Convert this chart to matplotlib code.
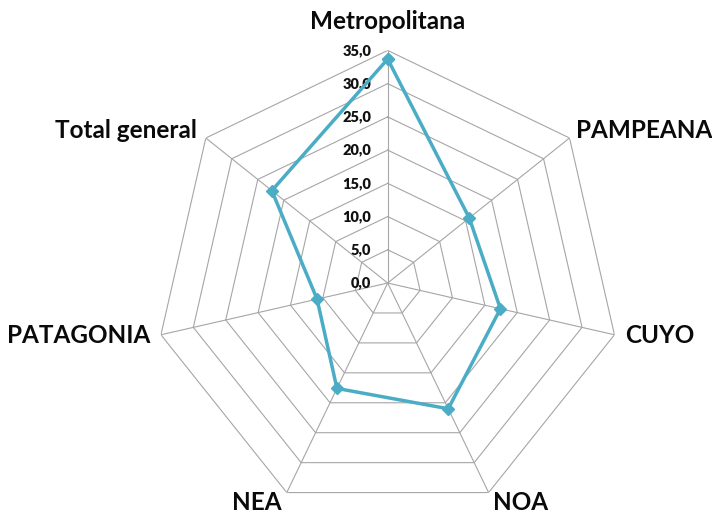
import matplotlib.pyplot as plt
import numpy as np

plt.rcParams['font.family'] = ['Lato', 'DejaVu Sans']

# 区域数据
regiones = ['Metropolitana', 'PAMPEANA', 'CUYO', 'NOA', 'NEA', 'PATAGONIA', 'Total general']
valores = [33.7, 15.7, 17.4, 21.0, 17.6, 10.9, 22.3]
niveles = [0, 5, 10, 15, 20, 25, 30, 35]
etiquetas_nivel = ['0,0', '5,0', '10,0', '15,0', '20,0', '25,0', '30,0', '35,0']

# 标签相对顶点的偏移 (points) 和对齐方式
offsets = [(0, 15.4, 'center'), (5, 0, 'left'), (7.6, -6.2, 'left'), (3.2, -12.5, 'left'),
           (-3.7, -12.5, 'right'), (-7.8, -6.2, 'right'), (-6.5, 0, 'right')]

color_linea = '#4bacc6'
color_grid = '#a6a6a6'

n = len(regiones)
angulos = np.linspace(0, 2 * np.pi, n, endpoint=False)
ang_cerrado = np.append(angulos, angulos[0])

fig = plt.figure(figsize=(7.12, 5.13), dpi=100)
ax = fig.add_axes([0.2178, -0.0051, 0.6534, 0.9068], projection='polar')
ax.set_theta_zero_location('N')
ax.set_theta_direction(-1)
ax.set_ylim(0, niveles[-1])
ax.axis('off')

# 多边形网格
for r in niveles[1:]:
    ax.plot(ang_cerrado, [r] * (n + 1), color=color_grid, lw=0.8, zorder=1)
for a in angulos:
    ax.plot([a, a], [0, niveles[-1]], color=color_grid, lw=0.8, zorder=1)

# 刻度标签
for r, t in zip(niveles, etiquetas_nivel):
    ax.annotate(t, xy=(0, r), xytext=(-12, 0), textcoords='offset points',
                ha='right', va='center', fontsize=10.5, fontweight='heavy', color='#111111')

# 数据线
vals = valores + valores[:1]
ax.plot(ang_cerrado, vals, color=color_linea, lw=2.5, marker='D', markersize=6, zorder=3)

# 区域名称
for a, nombre, (dx, dy, ha) in zip(angulos, regiones, offsets):
    ax.annotate(nombre, xy=(a, niveles[-1]), xytext=(dx, dy), textcoords='offset points',
                ha=ha, va='baseline', fontsize=17.5, fontweight='bold', color='#0a0a0a')

fig.savefig('out.png', dpi=100)
